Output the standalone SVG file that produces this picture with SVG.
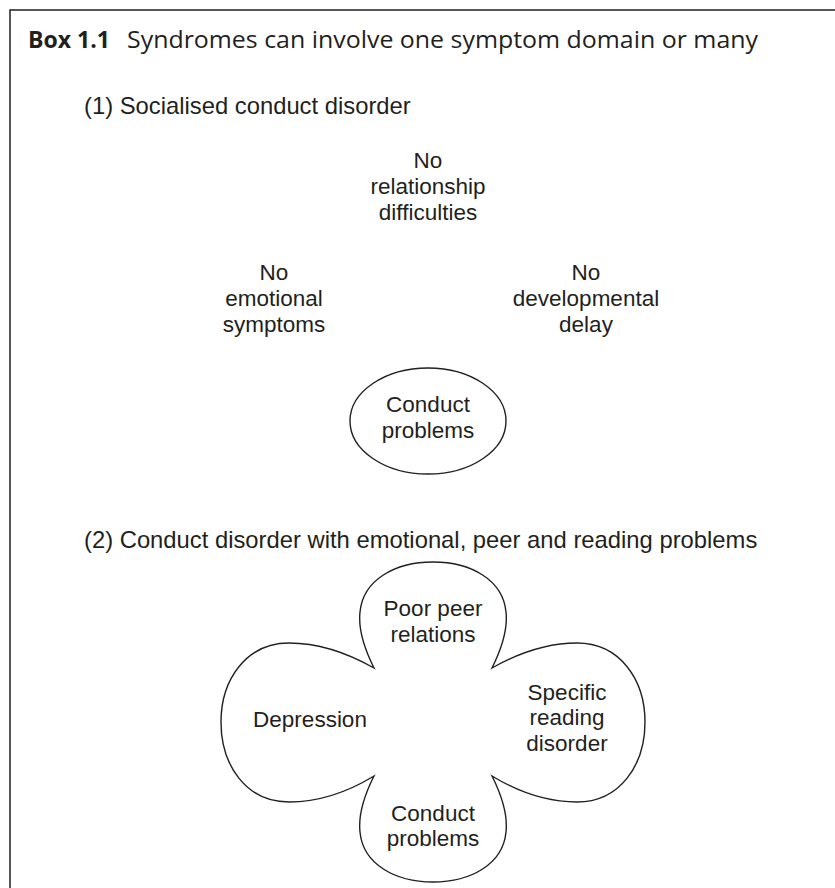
<svg xmlns="http://www.w3.org/2000/svg" width="835" height="888" viewBox="0 0 835 888">
<style>
  .frame { fill: none; stroke: #231f20; stroke-width: 1.5; }
  .shape { fill: none; stroke: #231f20; stroke-width: 1.4; stroke-linejoin: miter; }
  .t { font-family: "Liberation Sans", Arial, sans-serif; font-size: 22.5px; fill: #231f20; text-anchor: middle; }
  .cap { font-family: "Liberation Sans", Arial, sans-serif; font-size: 23.8px; fill: #231f20; }
  .title { font-family: "Open Sans", "Liberation Sans", sans-serif; font-size: 23px; fill: #231f20; }
</style>
<rect width="835" height="888" fill="#ffffff"/>
<path class="frame" d="M10,888 V10 H835"/>
<g id="title">
  <text class="title" x="28" y="48" font-weight="bold" textLength="82" lengthAdjust="spacingAndGlyphs">Box 1.1</text>
  <text class="title" x="127" y="48" textLength="631" lengthAdjust="spacingAndGlyphs">Syndromes can involve one symptom domain or many</text>
</g>
<g id="caption1">
  <text class="cap" x="84" y="114">(1) Socialised conduct disorder</text>
</g>
<g id="no-relationship">
  <text class="t" x="428" y="168">No</text>
  <text class="t" x="428" y="194">relationship</text>
  <text class="t" x="428" y="220">difficulties</text>
</g>
<g id="no-emotional">
  <text class="t" x="274" y="280">No</text>
  <text class="t" x="274" y="306">emotional</text>
  <text class="t" x="274" y="332">symptoms</text>
</g>
<g id="no-developmental">
  <text class="t" x="586" y="280">No</text>
  <text class="t" x="586" y="306">developmental</text>
  <text class="t" x="586" y="332">delay</text>
</g>
<g id="conduct1">
  <ellipse class="shape" cx="428" cy="421" rx="78" ry="53"/>
  <text class="t" x="428" y="412">Conduct</text>
  <text class="t" x="428" y="438">problems</text>
</g>
<g id="caption2">
  <text class="cap" x="84" y="548">(2) Conduct disorder with emotional, peer and reading problems</text>
</g>
<g id="cloud">
  <path class="shape" d="M374,668 C364,648 358,630 360,612 C363,580 395,562 433,562 C471,562 503,580 506,612 C508,630 502,648 492,668 C515,655 545,643 577,643 C620,643 645,680 645,722 C645,765 620,802 577,802 C545,802 515,790 492,776 C502,796 508,814 506,832 C503,864 471,882 433,882 C395,882 363,864 360,832 C358,814 364,796 374,776 C351,790 321,802 289,802 C246,802 221,765 221,722 C221,680 246,643 289,643 C321,643 351,655 374,668 Z"/>
</g>
<g id="poor-peer">
  <text class="t" x="433" y="616">Poor peer</text>
  <text class="t" x="433" y="642">relations</text>
</g>
<g id="depression">
  <text class="t" x="310" y="727">Depression</text>
</g>
<g id="reading">
  <text class="t" x="567" y="700">Specific</text>
  <text class="t" x="567" y="725">reading</text>
  <text class="t" x="567" y="751">disorder</text>
</g>
<g id="conduct2">
  <text class="t" x="433" y="821">Conduct</text>
  <text class="t" x="433" y="846">problems</text>
</g>
<g id="connectors"/>
</svg>
